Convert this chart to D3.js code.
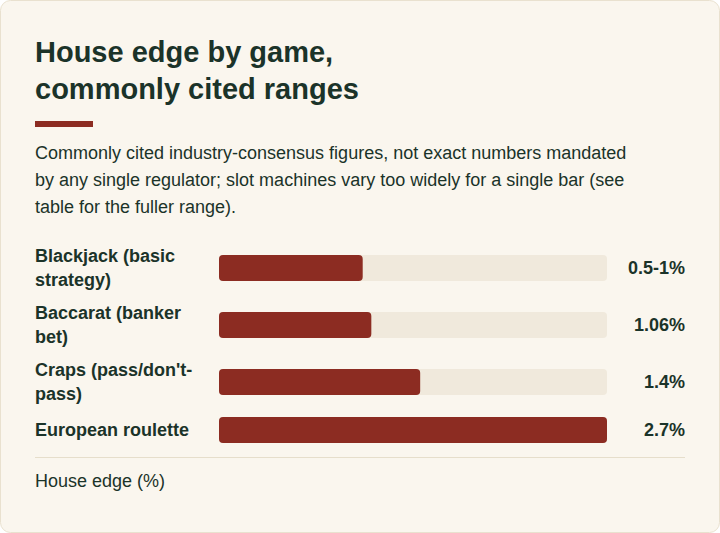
<!DOCTYPE html>
<html>
<head>
<meta charset="utf-8">
<script src="https://cdn.jsdelivr.net/npm/d3@7"></script>
<style>
  html, body { margin: 0; padding: 0; background: #ffffff; }
  svg { display: block; font-family: "Liberation Sans", Arial, sans-serif; }
</style>
</head>
<body>
<svg width="720" height="533"></svg>
<script>
const width = 720;
const height = 533;

// data
const games = ["Blackjack (basic strategy)", "Baccarat (banker bet)", "Craps (pass/don't-pass)", "European roulette"];
const edgeValues = [1.0, 1.06, 1.4, 2.7];
const edgeLabels = ["0.5-1%", "1.06%", "1.4%", "2.7%"];
const titleLines = ["House edge by game,", "commonly cited ranges"];
const subtitleLines = [
  "Commonly cited industry-consensus figures, not exact numbers mandated",
  "by any single regulator; slot machines vary too widely for a single bar (see",
  "table for the fuller range)."
];
const axisTitle = "House edge (%)";

const ink = "#1b3329";
const red = "#8c2c22";
const track = "#f0e9dc";

const svg = d3.select("svg");

// card
svg.append("rect")
  .attr("x", 0.5).attr("y", 0.5)
  .attr("width", width - 1).attr("height", height - 1)
  .attr("rx", 10)
  .attr("fill", "#faf6ee")
  .attr("stroke", "#e9e1cf");

// title
svg.append("g").selectAll("text")
  .data(titleLines)
  .join("text")
  .attr("x", 35)
  .attr("y", (d, i) => 62 + i * 37)
  .attr("fill", ink)
  .style("font-size", "29px")
  .style("font-weight", "bold")
  .text(d => d);

// accent
svg.append("rect")
  .attr("x", 35).attr("y", 121)
  .attr("width", 58).attr("height", 6)
  .attr("fill", red);

// subtitle
svg.append("g").selectAll("text")
  .data(subtitleLines)
  .join("text")
  .attr("x", 35)
  .attr("y", (d, i) => 159 + i * 27)
  .attr("fill", ink)
  .style("font-size", "18px")
  .text(d => d);

// wrap labels at ~172px, breaking on spaces and after hyphens
const measure = svg.append("text").style("font-size", "18px").style("font-weight", "bold");
function wrap(str, maxW) {
  const tokens = str.match(/[^\s-]+-?|\s+/g).filter(t => t.trim() !== "");
  const spaced = [];
  let rest = str;
  tokens.forEach(t => {
    const idx = rest.indexOf(t);
    spaced.push({ t, space: idx > 0 });
    rest = rest.slice(idx + t.length);
  });
  const lines = [];
  let cur = "";
  spaced.forEach(({ t, space }) => {
    const trial = cur === "" ? t : cur + (space ? " " : "") + t;
    measure.text(trial);
    if (cur !== "" && measure.node().getComputedTextLength() > maxW) {
      lines.push(cur);
      cur = t;
    } else {
      cur = trial;
    }
  });
  if (cur) lines.push(cur);
  return lines;
}
const rows = games.map((g, i) => ({ name: g, value: edgeValues[i], label: edgeLabels[i], lines: wrap(g, 172) }));
measure.remove();

// row centres from label heights
const lineH = 24, gap = 9;
let yc = 268;
rows.forEach((r, i) => {
  r.h = Math.max(r.lines.length * lineH, 30);
  if (i > 0) yc += rows[i - 1].h / 2 + gap + r.h / 2;
  r.cy = yc;
});

const x = d3.scaleLinear()
  .domain([0, d3.max(edgeValues)])
  .range([219, 607]);

const barH = 26;

const row = svg.append("g").selectAll("g")
  .data(rows)
  .join("g");

row.append("rect")
  .attr("x", x(0))
  .attr("y", d => d.cy - barH / 2)
  .attr("width", x.range()[1] - x(0))
  .attr("height", barH)
  .attr("rx", 4)
  .attr("fill", track);

row.append("rect")
  .attr("x", x(0))
  .attr("y", d => d.cy - barH / 2)
  .attr("width", d => x(d.value) - x(0))
  .attr("height", barH)
  .attr("rx", 4)
  .attr("fill", red);

row.append("text")
  .attr("fill", ink)
  .style("font-size", "18px")
  .style("font-weight", "bold")
  .each(function(d) {
    const n = d.lines.length;
    d3.select(this).selectAll("tspan")
      .data(d.lines)
      .join("tspan")
      .attr("x", 35)
      .attr("y", (l, j) => d.cy + 6 - (n - 1) * lineH / 2 + j * lineH)
      .text(l => l);
  });

row.append("text")
  .attr("x", 685)
  .attr("y", d => d.cy + 6)
  .attr("text-anchor", "end")
  .attr("fill", ink)
  .style("font-size", "18px")
  .style("font-weight", "bold")
  .text(d => d.label);

// baseline + axis title
const last = rows[rows.length - 1];
const sepY = last.cy + last.h / 2 + 12;
svg.append("line")
  .attr("x1", 35).attr("x2", 685)
  .attr("y1", sepY + 0.5).attr("y2", sepY + 0.5)
  .attr("stroke", "#e6decb");

svg.append("text")
  .attr("x", 35)
  .attr("y", sepY + 30)
  .attr("fill", ink)
  .style("font-size", "18px")
  .text(axisTitle);
</script>
</body>
</html>
